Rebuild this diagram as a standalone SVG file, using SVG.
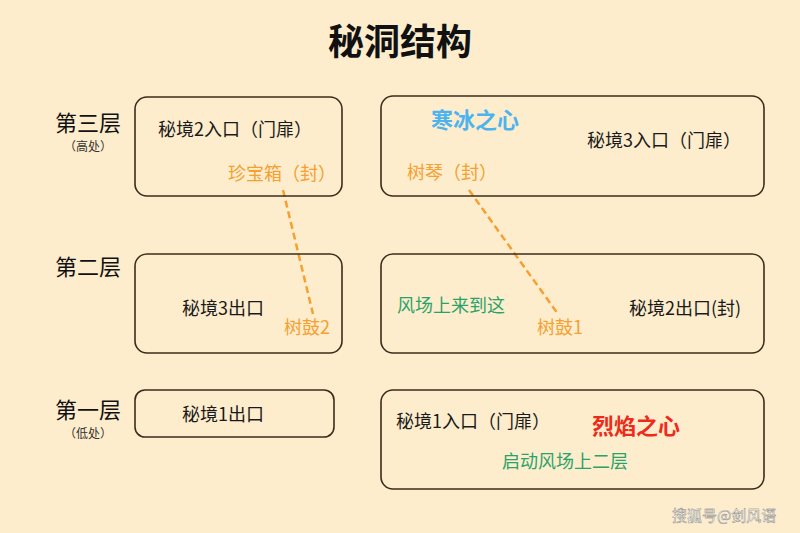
<svg xmlns="http://www.w3.org/2000/svg" width="800" height="533" viewBox="0 0 800 533">
<style>
.box{fill:none;stroke:#3b2c1c;stroke-width:1.6}
text{font-family:"Noto Sans CJK SC","Noto Sans",sans-serif}
.k{fill:#1a1a1a;font-size:18px}
.o{fill:#f5a030;font-size:18px}
.g{fill:#2aa36a;font-size:18px}
.lv{fill:#111;font-size:22px}
.sm{fill:#333;font-size:12px}
.c{stroke:#f5a030;stroke-width:2.5;stroke-dasharray:7 4;fill:none}
</style>
<rect width="800" height="533" fill="#fdedcd"/>
<text x="400" y="55" text-anchor="middle" font-size="36" font-weight="bold" fill="#111">秘洞结构</text>
<text class="lv" x="88" y="131" text-anchor="middle">第三层</text>
<text class="sm" x="88" y="151" text-anchor="middle">（高处）</text>
<text class="lv" x="88" y="275" text-anchor="middle">第二层</text>
<text class="lv" x="88" y="418" text-anchor="middle">第一层</text>
<text class="sm" x="88" y="438" text-anchor="middle">（低处）</text>
<g id="connectors">
<line class="c" x1="283" y1="190" x2="313" y2="314"/>
<line class="c" x1="469" y1="190" x2="558" y2="314"/>
</g>
<g id="n1"><rect class="box" x="135" y="97" width="207" height="99" rx="12"/>
<text class="k" x="158" y="136">秘境2入口（门扉）</text><text class="o" x="228" y="180">珍宝箱（封）</text></g>
<g id="n2"><rect class="box" x="381" y="96" width="383" height="100" rx="12"/>
<text x="431" y="128" font-size="22" font-weight="bold" fill="#4db3ee">寒冰之心</text>
<text class="k" x="587" y="147">秘境3入口（门扉）</text><text class="o" x="407" y="179">树琴（封）</text></g>
<g id="n3"><rect class="box" x="135" y="254" width="207" height="99" rx="12"/>
<text class="k" x="182" y="315">秘境3出口</text><text class="o" x="284" y="334">树鼓2</text></g>
<g id="n4"><rect class="box" x="381" y="254" width="383" height="99" rx="12"/>
<text class="g" x="397" y="312">风场上来到这</text><text class="k" x="629" y="315">秘境2出口(封)</text><text class="o" x="537" y="334">树鼓1</text></g>
<g id="n5"><rect class="box" x="135" y="390" width="199" height="47" rx="10"/>
<text class="k" x="182" y="421">秘境1出口</text></g>
<g id="n6"><rect class="box" x="381" y="390" width="383" height="99" rx="12"/>
<text class="k" x="396" y="428">秘境1入口（门扉）</text>
<text x="592" y="434" font-size="22" font-weight="bold" fill="#ee2a1b">烈焰之心</text>
<text class="g" x="502" y="468">启动风场上二层</text></g>
<text x="672" y="521" font-size="15" fill="#fff" stroke="#777" stroke-width="0.4">搜狐号@剑风语</text>
</svg>
